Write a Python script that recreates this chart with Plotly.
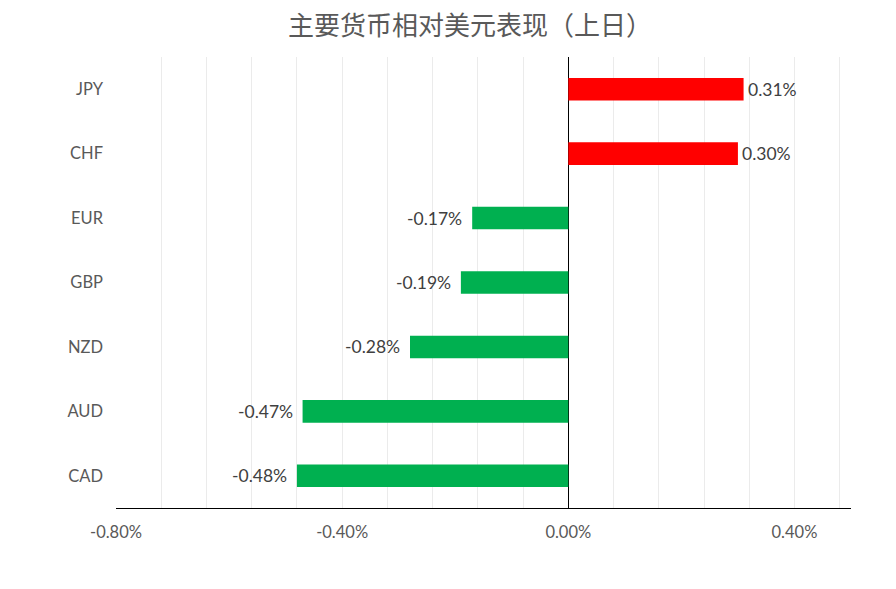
import plotly.graph_objects as go

# Currency performance vs USD (previous day), in percent
currencies = ["CAD", "AUD", "NZD", "GBP", "EUR", "CHF", "JPY"]
changes = [-0.48, -0.47, -0.28, -0.19, -0.17, 0.30, 0.31]
x_tick_values = [-0.8, -0.4, 0.0, 0.4]
x_tick_labels = ["-0.80%", "-0.40%", "0.00%", "0.40%"]

colors = ["#FF0000" if v > 0 else "#00B050" for v in changes]

fig = go.Figure()
fig.add_trace(
    go.Bar(
        x=changes,
        y=currencies,
        orientation="h",
        marker=dict(color=colors, line=dict(width=0)),
        width=0.35,
    )
)

# value labels next to each bar, a bit further out on the negative side
for cur, v in zip(currencies, changes):
    fig.add_annotation(
        x=v,
        y=cur,
        text=f"{v:.2f}%",
        showarrow=False,
        xanchor="left" if v > 0 else "right",
        xshift=2 if v > 0 else -8,
        font=dict(size=17.5, color="#404040", family="Lato, Noto Sans"),
    )

fig.update_layout(
    width=896,
    height=589,
    margin=dict(l=108, r=53, t=49, b=89),
    paper_bgcolor="white",
    plot_bgcolor="white",
    showlegend=False,
    title=dict(
        text="主要货币相对美元表现（上日）",
        x=0.5156,
        xanchor="center",
        y=0.97,
        yanchor="middle",
        font=dict(size=26, color="#595959", family="Noto Sans CJK SC"),
    ),
    font=dict(family="Lato, Noto Sans", color="#595959", size=16),
)

fig.update_xaxes(
    range=[-0.8, 0.5],
    tickvals=x_tick_values,
    ticktext=x_tick_labels,
    ticks="",
    ticklabelstandoff=9,
    showgrid=True,
    gridcolor="#EBEBEB",
    gridwidth=1,
    minor=dict(dtick=0.08, tick0=0, showgrid=True, gridcolor="#EBEBEB", gridwidth=1),
    zeroline=True,
    zerolinecolor="black",
    zerolinewidth=1,
    showline=True,
    linecolor="black",
    linewidth=1,
    tickfont=dict(size=16.5, color="#595959"),
)

fig.update_yaxes(
    ticks="",
    ticklabelstandoff=12,
    showgrid=False,
    showline=False,
    tickfont=dict(size=16.5, color="#595959"),
)

fig.write_html("out.html")
